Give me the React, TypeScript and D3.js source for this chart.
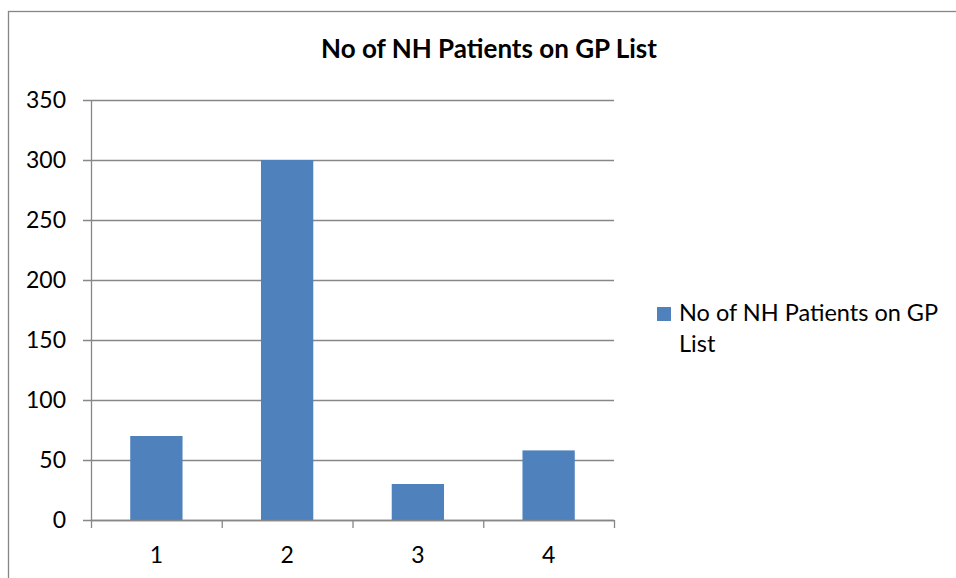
import React from "react";
import * as d3 from "d3";

const categories = ["1", "2", "3", "4"];
const values = [70, 300, 30, 58];
const yTicks = [0, 50, 100, 150, 200, 250, 300, 350];
const title = "No of NH Patients on GP List";
const legendLines = ["No of NH Patients on GP", "List"];

export default function App() {
  const W = 956, H = 578;
  const left = 91, right = 614, top = 100, bottom = 520;
  const x = d3.scaleBand<string>().domain(categories).range([left, right]).paddingInner(0.6).paddingOuter(0.3);
  const xb = d3.scaleBand<string>().domain(categories).range([left, right]);
  const y = d3.scaleLinear().domain([0, 350]).range([bottom, top]);
  const font = "Lato, 'Open Sans', sans-serif";
  const grid = "#878787";
  return (
    <svg width={W} height={H} style={{ position: "absolute", left: 0, top: 0 }} fontFamily={font}>
      <rect x={0} y={0} width={W} height={H} fill="#fff" />
      <rect x={8.5} y={11.5} width={W + 10} height={H + 10} fill="none" stroke="#868686" strokeWidth={1.3} />
      <text x={489} y={58} textAnchor="middle" fontSize={26} fontWeight="bold" fill="#000">{title}</text>
      {yTicks.map((t) => (
        <g key={t}>
          <line x1={83} x2={right} y1={Math.round(y(t)) + 0.5} y2={Math.round(y(t)) + 0.5} stroke={grid} strokeWidth={1.3} />
          <text x={66} y={y(t) + 8} textAnchor="end" fontSize={23} fill="#000">{t}</text>
        </g>
      ))}
      <line x1={left + 0.5} x2={left + 0.5} y1={top} y2={bottom} stroke={grid} strokeWidth={1.3} />
      {categories.map((c, i) => (
        <rect key={c} x={x(c)} y={y(values[i])} width={x.bandwidth()} height={bottom - y(values[i])} fill="#4F81BD" />
      ))}
      <line x1={left} x2={right} y1={bottom + 0.5} y2={bottom + 0.5} stroke={grid} strokeWidth={1.3} />
      {[...categories.map((c) => xb(c) as number), right].map((tx, i) => (
        <line key={i} x1={tx + 0.5} x2={tx + 0.5} y1={bottom} y2={bottom + 8} stroke={grid} strokeWidth={1.3} />
      ))}
      {categories.map((c) => (
        <text key={c} x={(xb(c) as number) + xb.bandwidth() / 2} y={563} textAnchor="middle" fontSize={23} fill="#000">{c}</text>
      ))}
      <rect x={657} y={307} width={14} height={14} fill="#4F81BD" />
      {legendLines.map((l, i) => (
        <text key={i} x={679} y={321 + i * 31} fontSize={23.5} fill="#000">{l}</text>
      ))}
    </svg>
  );
}
